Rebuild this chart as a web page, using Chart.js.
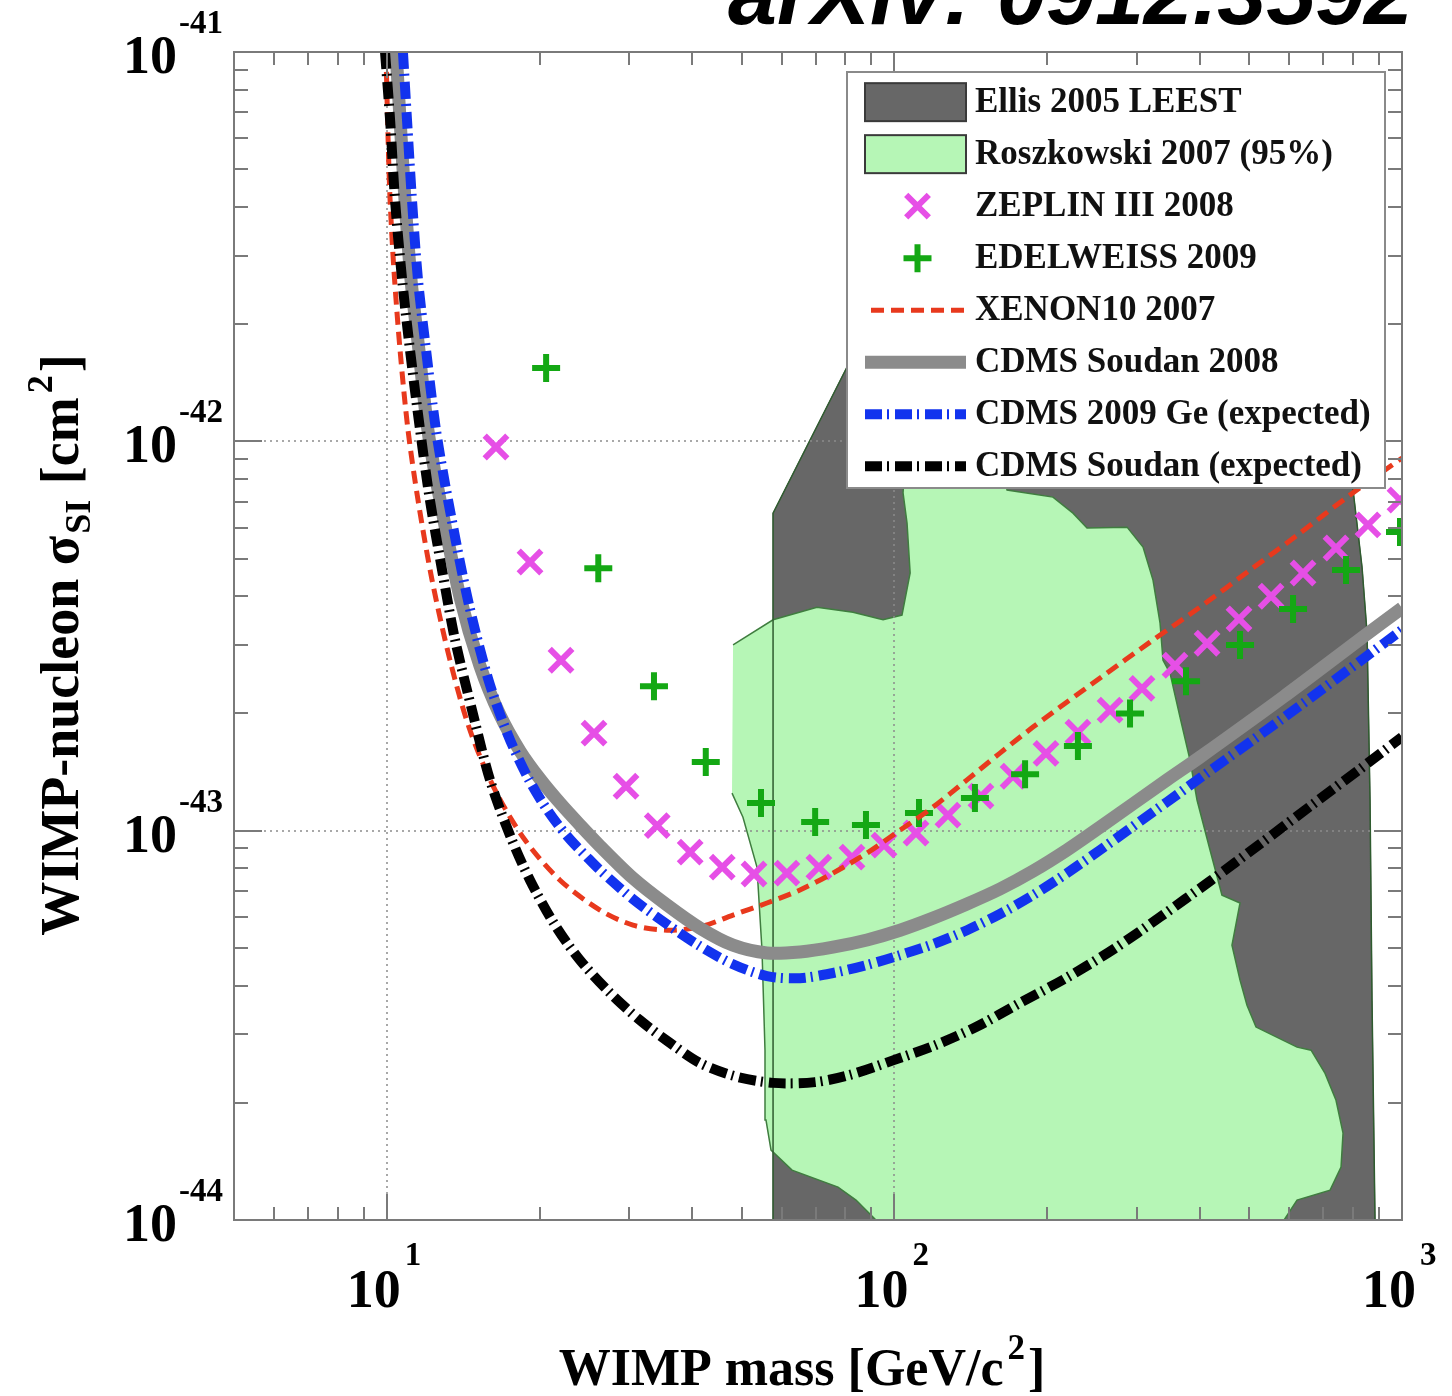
<!DOCTYPE html>
<html>
<head>
<meta charset="utf-8">
<title>WIMP-nucleon cross-section limits</title>
<script src="https://cdn.jsdelivr.net/npm/chart.js@4.4.1/dist/chart.umd.min.js"></script>
<style>
  html, body { margin: 0; padding: 0; background: #fff; }
</style>
</head>
<body>
<canvas id="limits" width="1452" height="1396"></canvas>
<script>
// Spin-independent WIMP-nucleon cross-section limits (cm^2) vs WIMP mass (GeV/c^2)

// XENON10 2007
const xenonMass = [9.96, 10.06, 10.15, 10.33, 10.62, 11.01, 11.52, 12.28, 13.32, 14.58, 16.34, 18.72, 21.94,
  26.30, 30.55, 35.65, 41.40, 48.08, 56.10, 65.16, 75.68, 88.31, 102.6, 119.1, 139.0, 161.4, 187.5, 218.8,
  254.2, 318.9, 400, 501.8, 629.5, 789.9, 1000];
const xenonSigma = [1e-41, 5.94e-42, 4.17e-42, 2.75e-42, 1.715e-42, 1.069e-42, 7.07e-43, 4.40e-43, 2.74e-43,
  1.813e-43, 1.272e-43, 9.46e-44, 7.46e-44, 6.25e-44, 5.72e-44, 5.55e-44, 5.66e-44, 6.07e-44, 6.52e-44, 7.04e-44,
  7.78e-44, 8.76e-44, 1.003e-43, 1.149e-43, 1.35e-43, 1.582e-43, 1.845e-43, 2.14e-43, 2.466e-43, 3.05e-43,
  3.75e-43, 4.67e-43, 5.81e-43, 7.28e-43, 9.06e-43];

// CDMS Soudan 2008
const soudanMass = [10.43, 10.62, 10.86, 11.16, 11.57, 12.05, 12.73, 13.94, 15.26, 16.71, 18.30, 20.04, 21.94,
  24.02, 26.30, 30.55, 35.65, 41.40, 48.08, 56.10, 65.16, 75.68, 88.31, 102.6, 119.1, 139.0, 161.4, 187.5,
  218.8, 254.2, 344.4, 400, 583.1, 853.1, 1000];
const soudanSigma = [1e-41, 6.69e-42, 4.17e-42, 2.60e-42, 1.715e-42, 1.069e-42, 7.07e-43, 3.98e-43, 2.65e-43,
  1.981e-43, 1.601e-43, 1.357e-43, 1.177e-43, 1.034e-43, 9.13e-44, 7.55e-44, 6.44e-44, 5.62e-44, 5.08e-44,
  4.85e-44, 4.88e-44, 5.02e-44, 5.24e-44, 5.55e-44, 5.96e-44, 6.48e-44, 7.08e-44, 7.87e-44, 8.92e-44,
  1.021e-43, 1.35e-43, 1.545e-43, 2.203e-43, 3.20e-43, 3.73e-43];

// CDMS 2009 Ge, expected sensitivity
const geExpMass = [10.76, 10.96, 11.21, 11.52, 11.95, 12.50, 13.20, 14.45, 15.82, 17.33, 18.98, 20.78, 22.75,
  24.91, 26.30, 30.55, 35.65, 41.40, 48.08, 56.10, 65.16, 75.68, 88.31, 102.6, 119.1, 139.0, 161.4, 187.5,
  218.8, 254.2, 344.4, 400, 583.1, 853.1, 1000];
const geExpSigma = [1e-41, 6.69e-42, 4.17e-42, 2.60e-42, 1.715e-42, 1.069e-42, 7.07e-43, 3.91e-43, 2.466e-43,
  1.76e-43, 1.365e-43, 1.123e-43, 9.63e-44, 8.50e-44, 7.92e-44, 6.67e-44, 5.75e-44, 5.05e-44, 4.54e-44,
  4.23e-44, 4.18e-44, 4.31e-44, 4.52e-44, 4.79e-44, 5.11e-44, 5.55e-44, 6.11e-44, 6.83e-44, 7.78e-44,
  8.92e-44, 1.185e-43, 1.365e-43, 1.946e-43, 2.81e-43, 3.28e-43];

// CDMS Soudan, expected sensitivity
const soudanExpMass = [9.92, 10.15, 10.38, 10.72, 11.11, 11.63, 12.16, 12.85, 13.63, 14.72, 15.97, 17.48, 19.15,
  21.45, 24.02, 27.53, 31.53, 36.13, 41.40, 48.53, 57.67, 69.76, 81.77, 99.38, 120.2, 144.8, 176.8, 219.8,
  272.1, 333.7, 418.6, 525.2, 680.1, 826.5, 1000];
const soudanExpSigma = [1e-41, 6.69e-42, 4.17e-42, 2.60e-42, 1.715e-42, 1.069e-42, 7.07e-43, 4.67e-43, 3.09e-43,
  2.04e-43, 1.35e-43, 9.74e-44, 7.46e-44, 5.72e-44, 4.65e-44, 3.83e-44, 3.26e-44, 2.85e-44, 2.53e-44, 2.34e-44,
  2.25e-44, 2.26e-44, 2.36e-44, 2.57e-44, 2.81e-44, 3.13e-44, 3.61e-44, 4.21e-44, 4.99e-44, 6.00e-44, 7.42e-44,
  9.24e-44, 1.191e-43, 1.44e-43, 1.74e-43];

// ZEPLIN III 2008
const zeplinMass = [16.41, 19.15, 22.04, 25.6, 29.6, 34.1, 39.6, 45.8, 52.9, 61.4, 71.0, 82.5, 95.4, 110.3,
  127.5, 148.1, 171.3, 198.9, 229.9, 266.0, 307.4, 357.1, 413.0, 477.4, 552.1, 638.3, 741.3, 857.0, 991];
const zeplinSigma = [9.67e-43, 4.90e-43, 2.74e-43, 1.78e-43, 1.30e-43, 1.03e-43, 8.81e-44, 8.06e-44, 7.74e-44,
  7.78e-44, 8.06e-44, 8.55e-44, 9.18e-44, 9.86e-44, 1.096e-43, 1.227e-43, 1.38e-43, 1.58e-43, 1.79e-43,
  2.04e-43, 2.32e-43, 2.66e-43, 3.03e-43, 3.50e-43, 4.00e-43, 4.59e-43, 5.32e-43, 6.10e-43, 7.07e-43];

// EDELWEISS 2009
const edelweissMass = [20.6, 26.1, 33.6, 42.5, 54.6, 69.8, 87.9, 111.8, 144.1, 180.9, 229.9, 291.2, 375.4,
  479.6, 610, 775.8, 991];
const edelweissSigma = [1.543e-42, 4.72e-43, 2.35e-43, 1.50e-43, 1.177e-43, 1.052e-43, 1.034e-43, 1.11e-43,
  1.213e-43, 1.397e-43, 1.65e-43, 2.00e-43, 2.42e-43, 3.00e-43, 3.71e-43, 4.67e-43, 5.85e-43];

// Ellis 2005 LEEST allowed region (closed outline)
const ellisMass = [57.67, 57.67, 80.66, 105.4, 738.0, 800.9, 834.2, 853.4, 865.0, 872.8, 884.8];
const ellisSigma = [1e-44, 6.54e-43, 1.552e-42, 3.10e-42, 3.10e-42, 7.50e-43, 4.75e-43, 3.22e-43, 1.199e-43,
  3.67e-44, 1e-44];

// Roszkowski 2007 95% region (closed outline)
const roszMass = [48.10, 57.67, 70.39, 82.88, 94.97, 103.5, 107.4, 105.9, 104.0, 104.9, 161.4, 166.7, 205.3,
  224.8, 239.6, 287.3, 308.9, 323.2, 333.7, 338.2, 349.1, 365.3, 382.3, 394.6, 418.6, 441.9, 479.6, 462.4,
  479.6, 495.0, 515.7, 621.2, 662.0, 705.4, 741.3, 765.3, 758.4, 721.6, 621.2, 585.8, 91.98, 84.02, 77.43,
  62.85, 57.14, 55.85, 55.60, 54.85, 53.61, 50.31, 47.87];
const roszSigma = [3.00e-43, 3.48e-43, 3.75e-43, 3.64e-43, 3.48e-43, 3.58e-43, 4.59e-43, 6.17e-43, 7.37e-43,
  8.95e-43, 8.95e-43, 7.50e-43, 7.19e-43, 6.54e-43, 5.99e-43, 6.02e-43, 5.35e-43, 4.40e-43, 3.41e-43, 2.74e-43,
  2.54e-43, 1.957e-43, 1.518e-43, 1.199e-43, 8.92e-44, 6.83e-44, 6.52e-44, 5.08e-44, 4.13e-44, 3.56e-44,
  3.13e-44, 2.78e-44, 2.73e-44, 2.38e-44, 2.03e-44, 1.672e-44, 1.367e-44, 1.193e-44, 1.125e-44, 1e-44, 1e-44,
  1.125e-44, 1.215e-44, 1.343e-44, 1.512e-44, 1.806e-44, 2.73e-44, 4.93e-44, 8.06e-44, 1.083e-43, 1.249e-43];

// axes
const massRange = [5, 1000];
const sigmaRange = [1e-44, 1e-41];
const xTickValues = [10, 100, 1000];
const xTickExps = ['1', '2', '3'];
const yTickValues = [1e-44, 1e-43, 1e-42, 1e-41];
const yTickExps = ['-44', '-43', '-42', '-41'];
const xGridValues = [10, 100];
const yGridValues = [1e-43, 1e-42];

const pts = (xs, ys) => xs.map((v, i) => ({ x: v, y: ys[i] }));

const SERIF = '"Liberation Serif", "Times New Roman", serif';
const DASHDOT = [17, 5, 2, 6];

const datasets = [
  { label: 'Ellis 2005 LEEST', data: pts(ellisMass, ellisSigma), fill: 'shape',
    backgroundColor: '#676767', borderColor: '#5c5c5c', borderWidth: 1, pointRadius: 0, order: 9,
    legendKind: 'box' },
  { label: 'Roszkowski 2007 (95%)', data: pts(roszMass, roszSigma), fill: 'shape',
    backgroundColor: '#b6f6b6', borderColor: '#3f7d3f', borderWidth: 1.5, pointRadius: 0, order: 8,
    legendKind: 'box' },
  { label: '', data: pts(ellisMass, ellisSigma), fill: false, borderColor: '#2f5c2f', borderWidth: 1.5,
    pointRadius: 0, order: 7, legendKind: null, gridAfter: true },
  { label: 'ZEPLIN III 2008', data: pts(zeplinMass, zeplinSigma), showLine: false, pointStyle: 'crossRot',
    pointRadius: 16, pointBorderWidth: 6, pointBorderColor: '#e64fe6', borderColor: '#e64fe6', order: 6,
    legendKind: 'point' },
  { label: 'EDELWEISS 2009', data: pts(edelweissMass, edelweissSigma), showLine: false, pointStyle: 'cross',
    pointRadius: 14, pointBorderWidth: 6, pointBorderColor: '#14a814', borderColor: '#14a814', order: 5,
    legendKind: 'point' },
  { label: 'XENON10 2007', data: pts(xenonMass, xenonSigma), borderColor: '#e8391d', borderWidth: 5,
    borderDash: [13, 7], pointRadius: 0, tension: 0.3, order: 4, legendKind: 'line' },
  { label: 'CDMS Soudan 2008', data: pts(soudanMass, soudanSigma), borderColor: '#8b8b8b', borderWidth: 13,
    pointRadius: 0, tension: 0.3, order: 3, legendKind: 'line' },
  { label: 'CDMS 2009 Ge (expected)', data: pts(geExpMass, geExpSigma), borderColor: '#1233ee', borderWidth: 10,
    borderDash: DASHDOT, pointRadius: 0, tension: 0.3, order: 2, legendKind: 'line' },
  { label: 'CDMS Soudan (expected)', data: pts(soudanExpMass, soudanExpSigma), borderColor: '#000000',
    borderWidth: 10, borderDash: DASHDOT, pointRadius: 0, tension: 0.3, order: 1, legendKind: 'line' }
];

// text made of pieces with their own font and baseline shift
function richWidth(ctx, parts) {
  let w = 0;
  parts.forEach(p => { ctx.font = p.font; w += ctx.measureText(p.t).width + (p.gap || 0); });
  return w;
}
function drawRich(ctx, parts, x, y) {
  parts.forEach(p => {
    ctx.font = p.font;
    x += p.gap || 0;
    ctx.fillText(p.t, x, y + (p.dy || 0));
    x += ctx.measureText(p.t).width;
  });
}

function drawGrid(chart) {
  const { ctx, chartArea: a, scales: { x, y } } = chart;
  ctx.save();
  ctx.strokeStyle = '#8c8c8c';
  ctx.lineWidth = 1.5;
  ctx.setLineDash([2, 4]);
  xGridValues.forEach(v => {
    const px = Math.round(x.getPixelForValue(v));
    ctx.beginPath(); ctx.moveTo(px, a.top); ctx.lineTo(px, a.bottom); ctx.stroke();
  });
  yGridValues.forEach(v => {
    const py = Math.round(y.getPixelForValue(v));
    ctx.beginPath(); ctx.moveTo(a.left, py); ctx.lineTo(a.right, py); ctx.stroke();
  });
  ctx.restore();
}

function drawFrame(chart) {
  const { ctx, chartArea: a, scales: { x, y } } = chart;
  ctx.save();
  ctx.strokeStyle = '#7a7a7a';
  ctx.lineWidth = 2;
  ctx.beginPath();
  // ticks on all four sides, pointing inwards
  for (let e = 0; e <= 2; e++) {
    for (let k = 1; k <= 9; k++) {
      const v = k * Math.pow(10, e);
      if (v <= massRange[0] || v >= massRange[1]) continue;
      const px = Math.round(x.getPixelForValue(v));
      const len = k === 1 ? 26 : 13;
      ctx.moveTo(px, a.bottom); ctx.lineTo(px, a.bottom - len);
      ctx.moveTo(px, a.top); ctx.lineTo(px, a.top + len);
    }
  }
  for (let e = -44; e <= -42; e++) {
    for (let k = 1; k <= 9; k++) {
      const v = k * Math.pow(10, e);
      if (v <= sigmaRange[0] * 1.0001 || v >= sigmaRange[1] * 0.9999) continue;
      const py = Math.round(y.getPixelForValue(v));
      const len = k === 1 ? 28 : 14;
      ctx.moveTo(a.left, py); ctx.lineTo(a.left + len, py);
      ctx.moveTo(a.right, py); ctx.lineTo(a.right - len, py);
    }
  }
  ctx.stroke();
  ctx.strokeRect(a.left, a.top, a.right - a.left, a.bottom - a.top);
  ctx.restore();
}

function drawAxisText(chart) {
  const { ctx, chartArea: a, scales: { x, y } } = chart;
  const big = 'bold 54px ' + SERIF;
  const small = 'bold 33px ' + SERIF;
  ctx.save();
  ctx.fillStyle = '#000';
  ctx.textBaseline = 'alphabetic';
  ctx.textAlign = 'left';

  xTickValues.forEach((v, i) => {
    const px = x.getPixelForValue(v);
    ctx.font = big;
    const w = ctx.measureText('10').width;
    ctx.fillText('10', px + 14 - w, a.bottom + 87);
    ctx.font = small;
    ctx.fillText(xTickExps[i], px + 18, a.bottom + 45);
  });
  yTickValues.forEach((v, i) => {
    const py = y.getPixelForValue(v);
    ctx.font = big;
    const w = ctx.measureText('10').width;
    ctx.fillText('10', 177 - w, py + 21);
    ctx.font = small;
    ctx.fillText(yTickExps[i], 179, py - 19);
  });

  // axis titles
  const tf = 'bold 52px ' + SERIF;
  const ts = 'bold 35px ' + SERIF;
  const xTitle = [
    { t: 'WIMP mass [GeV/c', font: tf },
    { t: '2', font: ts, dy: -26, gap: 4 },
    { t: ']', font: tf, gap: 3 }
  ];
  const xw = richWidth(ctx, xTitle);
  drawRich(ctx, xTitle, 802 - xw / 2, 1385);

  const yf = 'bold 54px ' + SERIF;
  const ys = 'bold 36px ' + SERIF;
  const yTitle = [
    { t: 'WIMP-nucleon \u03C3', font: yf },
    { t: 'SI', font: ys, dy: 12, gap: 2 },
    { t: ' [cm', font: yf, gap: 2 },
    { t: '2', font: ys, dy: -26, gap: 4 },
    { t: ']', font: yf, gap: 3 }
  ];
  const yw = richWidth(ctx, yTitle);
  ctx.translate(78, 645);
  ctx.rotate(-Math.PI / 2);
  drawRich(ctx, yTitle, -yw / 2, 0);
  ctx.restore();

  // paper reference along the top edge
  ctx.save();
  ctx.fillStyle = '#000';
  ctx.font = 'italic bold 88px "Liberation Sans", Arial, sans-serif';
  ctx.textBaseline = 'alphabetic';
  ctx.fillText('arXiv: 0912.3592', 728, 24);
  ctx.restore();
}

function drawLegend(chart) {
  const { ctx } = chart;
  const box = { left: 847, top: 72, right: 1385, bottom: 488 };
  const items = chart.data.datasets.filter(d => d.legendKind);
  const rowH = (box.bottom - box.top) / items.length;
  ctx.save();
  ctx.fillStyle = '#fff';
  ctx.fillRect(box.left, box.top, box.right - box.left, box.bottom - box.top);
  ctx.strokeStyle = '#8a8a8a';
  ctx.lineWidth = 2;
  ctx.strokeRect(box.left, box.top, box.right - box.left, box.bottom - box.top);

  const sx0 = 865, sx1 = 966;
  items.forEach((d, i) => {
    const cy = box.top + rowH * (i + 0.58);
    ctx.save();
    if (d.legendKind === 'box') {
      ctx.fillStyle = d.backgroundColor;
      ctx.fillRect(sx0, cy - 19, sx1 - sx0, 38);
      ctx.strokeStyle = '#3a3a3a';
      ctx.lineWidth = 2;
      ctx.strokeRect(sx0, cy - 19, sx1 - sx0, 38);
    } else if (d.legendKind === 'point') {
      const cx = (sx0 + sx1) / 2 + 2;
      const r = d.pointRadius;
      ctx.strokeStyle = d.pointBorderColor;
      ctx.lineWidth = d.pointBorderWidth;
      ctx.beginPath();
      if (d.pointStyle === 'cross') {
        ctx.moveTo(cx - r, cy); ctx.lineTo(cx + r, cy);
        ctx.moveTo(cx, cy - r); ctx.lineTo(cx, cy + r);
      } else {
        const o = r * Math.SQRT1_2;
        ctx.moveTo(cx - o, cy - o); ctx.lineTo(cx + o, cy + o);
        ctx.moveTo(cx - o, cy + o); ctx.lineTo(cx + o, cy - o);
      }
      ctx.stroke();
    } else {
      ctx.strokeStyle = d.borderColor;
      ctx.lineWidth = d.borderWidth;
      ctx.setLineDash(d.borderDash || []);
      ctx.beginPath();
      ctx.moveTo(sx0 + (d.borderDash && d.borderDash.length === 2 ? 6 : 0), cy);
      ctx.lineTo(sx1, cy);
      ctx.stroke();
    }
    ctx.restore();
    ctx.fillStyle = '#111';
    ctx.font = 'bold 35px ' + SERIF;
    ctx.textBaseline = 'middle';
    ctx.fillText(d.label, 975, cy + 1);
  });
  ctx.restore();
}

const decorations = {
  id: 'decorations',
  afterDatasetDraw(chart, args) {
    if (chart.data.datasets[args.index].gridAfter) drawGrid(chart);
  },
  afterDatasetsDraw(chart) {
    drawFrame(chart);
  },
  afterDraw(chart) {
    drawLegend(chart);
    drawAxisText(chart);
  }
};

new Chart(document.getElementById('limits'), {
  type: 'line',
  data: { datasets },
  options: {
    responsive: false,
    animation: false,
    layout: { padding: { left: 234, top: 52, right: 50, bottom: 176 } },
    scales: {
      x: { type: 'logarithmic', min: massRange[0], max: massRange[1], display: false },
      y: { type: 'logarithmic', min: sigmaRange[0], max: sigmaRange[1], display: false }
    },
    plugins: {
      legend: { display: false },
      tooltip: { enabled: false }
    },
    elements: { line: { borderCapStyle: 'butt' } }
  },
  plugins: [decorations]
});
</script>
</body>
</html>
